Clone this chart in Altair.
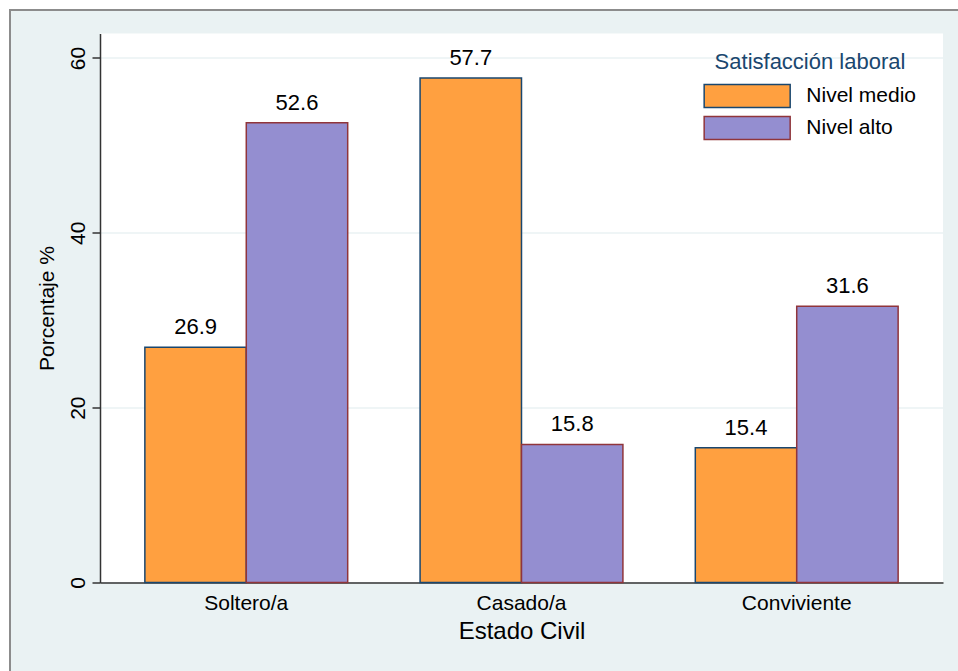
import altair as alt
import pandas as pd

# Survey results: job-satisfaction level by marital status (percent)
estado_civil = ["Soltero/a", "Casado/a", "Conviviente"]
niveles = ["Nivel medio", "Nivel alto"]
nivel_medio = [26.9, 57.7, 15.4]
nivel_alto = [52.6, 15.8, 31.6]

rows = []
for i, est in enumerate(estado_civil):
    rows.append({"estado": est, "nivel": niveles[0], "pct": nivel_medio[i]})
    rows.append({"estado": est, "nivel": niveles[1], "pct": nivel_alto[i]})
df = pd.DataFrame(rows)

FONT = "Liberation Sans"
BG = "#EAF2F3"          # light bluish-gray graph region
NAVY = "#1A476F"
MAROON = "#90353B"
FILLS = ["#FFA040", "#948ED0"]

W, H = 843, 549
PAD_L, PAD_T, PAD_R, PAD_B = 100, 33.5, 15, 88.5

# Wide legend keys: a 6x1.6 unit rectangle (scaled by sqrt(symbolSize)/2),
# drawn from the left edge of the symbol column
SYM_SIZE = 822
SYM_R = SYM_SIZE ** 0.5 / 2

legend = alt.Legend(
    title="Satisfacción laboral",
    orient="none",
    legendX=603,
    legendY=18,
    direction="vertical",
    symbolType="M-1,-0.8H5V0.8H-1Z",
    symbolSize=SYM_SIZE,
    symbolStrokeWidth=1.5,
    symbolOpacity=1,
    labelFontSize=21,
    labelFont=FONT,
    labelColor="#000000",
    labelOffset=4 * SYM_R + 15,
    labelLimit=300,
    rowPadding=2,
    titleFontSize=22,
    titleFont=FONT,
    titleFontWeight="normal",
    titleColor=NAVY,
    titleAnchor="middle",
    titleLimit=400,
    titlePadding=7,
)

x_enc = alt.X(
    "estado:N",
    sort=estado_civil,
    scale=alt.Scale(paddingInner=0.263, paddingOuter=0.163),
    axis=alt.Axis(
        title="Estado Civil",
        titleFontSize=24,
        titleFontWeight="normal",
        titlePadding=6,
        labelFontSize=21,
        labelAngle=0,
        labelPadding=10,
        ticks=False,
        grid=False,
        domainColor="#333333",
        domainWidth=1.5,
    ),
)
xoff_enc = alt.XOffset("nivel:N", sort=niveles, scale=alt.Scale(domain=niveles, paddingInner=0, paddingOuter=0))
y_enc = alt.Y(
    "pct:Q",
    scale=alt.Scale(domain=[0, 62.8], nice=False),
    axis=alt.Axis(
        title="Porcentaje %",
        titleFontSize=21,
        titleFontWeight="normal",
        titlePadding=10,
        values=[0, 20, 40, 60],
        labelAngle=270,
        labelFontSize=21,
        labelPadding=4,
        tickSize=8,
        tickColor="#333333",
        tickWidth=1.5,
        domainColor="#333333",
        domainWidth=1.5,
        grid=True,
        gridColor=BG,
        gridWidth=1.3,
    ),
)

bars = alt.Chart(df).mark_bar(strokeWidth=1.5).encode(
    x=x_enc,
    xOffset=xoff_enc,
    y=y_enc,
    fill=alt.Fill("nivel:N", sort=niveles, scale=alt.Scale(domain=niveles, range=FILLS), legend=legend),
    stroke=alt.Stroke("nivel:N", sort=niveles, scale=alt.Scale(domain=niveles, range=[NAVY, MAROON]), legend=legend),
)

labels = alt.Chart(df).mark_text(
    baseline="alphabetic", dy=-13, fontSize=22, font=FONT, color="#000000"
).encode(
    x=alt.X("estado:N", sort=estado_civil),
    xOffset=alt.XOffset("nivel:N", sort=niveles),
    y="pct:Q",
    text=alt.Text("pct:Q", format=".1f"),
)

# Outer frame: white margin strip plus thin gray border around the graph region
one = pd.DataFrame({"k": [0]})
strip_left = alt.Chart(one).mark_rect(color="white").encode(
    x=alt.value(-PAD_L), x2=alt.value(-PAD_L + 9),
    y=alt.value(-PAD_T), y2=alt.value(H + PAD_B),
)
strip_top = alt.Chart(one).mark_rect(color="white").encode(
    x=alt.value(-PAD_L), x2=alt.value(W + PAD_R),
    y=alt.value(-PAD_T), y2=alt.value(-PAD_T + 9),
)
border_left = alt.Chart(one).mark_rule(color="#8C8C8C", strokeWidth=2).encode(
    x=alt.value(-PAD_L + 10), y=alt.value(-PAD_T + 9), y2=alt.value(H + PAD_B),
)
border_top = alt.Chart(one).mark_rule(color="#8C8C8C", strokeWidth=2).encode(
    y=alt.value(-PAD_T + 10), x=alt.value(-PAD_L + 9), x2=alt.value(W + PAD_R),
)

chart = alt.layer(
    strip_left, strip_top, border_left, border_top, bars, labels
).resolve_scale(
    xOffset="shared"
).properties(
    width=W,
    height=H,
    background=BG,
    padding={"left": PAD_L, "top": PAD_T, "right": PAD_R, "bottom": PAD_B},
    autosize=alt.AutoSizeParams(type="none"),
).configure_view(
    fill="white", stroke=None
).configure_axis(
    labelFont=FONT, titleFont=FONT, labelColor="#000000", titleColor="#000000"
)

chart.save("out.html", embed_options={"renderer": "svg", "actions": False})
